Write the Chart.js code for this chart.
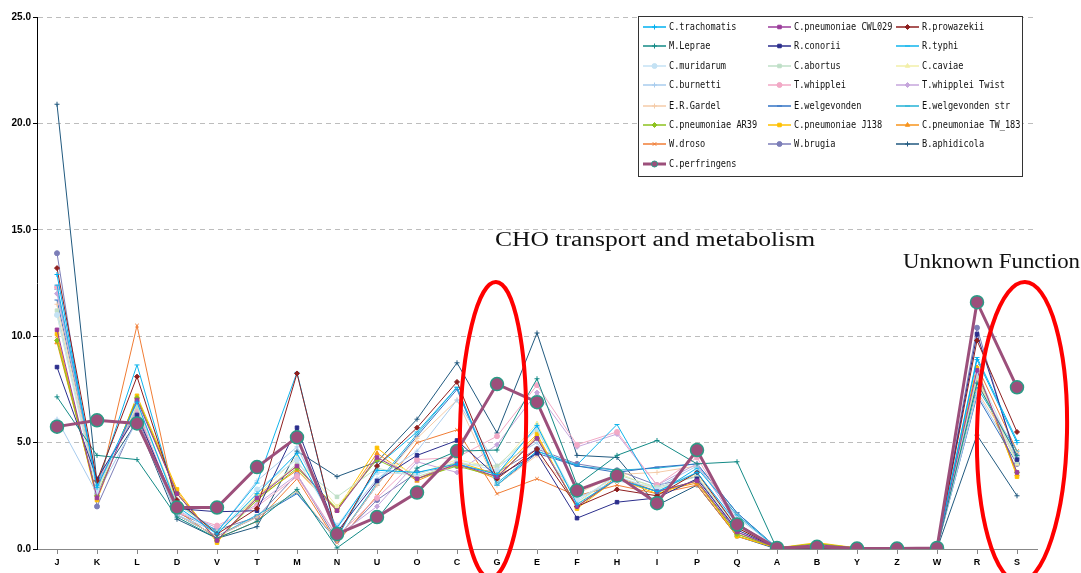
<!DOCTYPE html>
<html>
<head>
<meta charset="utf-8">
<script src="https://cdn.jsdelivr.net/npm/chart.js@4"></script>
<style>
  body { margin: 0; background: #fff; }
  #wrap { width: 1081px; height: 573px; }
</style>
</head>
<body>
<div id="wrap"><canvas id="cogChart" width="1081" height="573"></canvas></div>
<script>
// COG categories on the x axis
const categorias = ["J","K","L","D","V","T","M","N","U","O","C","G","E","F","H","I","P","Q","A","B","Y","Z","W","R","S"];
const yTicks = [0, 5, 10, 15, 20, 25];

// percentages per genome
const cTrachomatis = [12.9, 2.9, 6.9, 2.0, 0.7, 2.6, 4.5, 1.0, 3.7, 3.6, 4.0, 3.5, 5.8, 2.1, 3.3, 2.7, 3.6, 1.2, 0.05, 0.1, 0.02, 0.02, 0.05, 8.9, 5.0];
const cpnCWL029 = [10.3, 2.4, 7.0, 2.6, 0.4, 2.4, 3.9, 1.8, 4.3, 3.3, 4.0, 3.4, 5.2, 2.0, 3.3, 2.7, 3.2, 0.8, 0.05, 0.2, 0.05, 0.05, 0.05, 8.4, 3.6];
const rProwazekii = [13.2, 3.2, 8.1, 2.3, 0.7, 1.9, 8.25, 0.6, 3.9, 5.7, 7.85, 3.3, 4.7, 2.0, 2.8, 2.5, 3.6, 1.0, 0.05, 0.05, 0.02, 0.02, 0.05, 9.8, 5.5];
const mLeprae = [7.15, 4.4, 4.2, 1.5, 0.5, 1.3, 2.8, 0.05, 1.4, 3.8, 4.6, 4.65, 8.0, 3.0, 4.4, 5.1, 4.0, 4.1, 0.0, 0.05, 0.0, 0.0, 0.0, 7.8, 4.4];
const rConorii = [8.55, 3.3, 6.3, 1.9, 1.75, 1.8, 5.7, 0.8, 3.2, 4.4, 5.1, 3.4, 4.5, 1.45, 2.2, 2.4, 3.3, 0.9, 0.05, 0.05, 0.02, 0.02, 0.05, 10.1, 4.2];
const rTyphi = [12.4, 3.0, 8.65, 2.2, 0.8, 3.1, 8.3, 0.5, 3.9, 5.5, 7.6, 3.0, 4.6, 3.95, 5.85, 2.6, 3.8, 1.6, 0.05, 0.05, 0.02, 0.02, 0.05, 9.0, 5.1];
const cMuridarum = [11.0, 2.7, 6.9, 1.9, 0.7, 2.8, 4.2, 1.1, 3.6, 3.5, 4.1, 3.7, 5.7, 2.3, 3.4, 2.8, 3.6, 1.1, 0.05, 0.1, 0.02, 0.02, 0.05, 8.3, 4.3];
const cAbortus = [11.2, 2.8, 6.7, 2.1, 0.8, 2.4, 4.0, 2.45, 3.8, 3.4, 4.0, 3.9, 5.6, 2.2, 3.5, 2.9, 3.4, 1.0, 0.05, 0.1, 0.02, 0.02, 0.05, 8.1, 4.1];
const cCaviae = [11.0, 2.7, 6.8, 2.2, 0.7, 2.5, 4.3, 2.0, 4.3, 3.5, 4.2, 3.8, 5.9, 2.1, 3.6, 2.8, 3.5, 1.0, 0.05, 0.1, 0.02, 0.02, 0.05, 8.0, 4.0];
const cBurnetti = [6.1, 2.6, 6.0, 1.6, 0.8, 3.2, 4.8, 1.0, 3.3, 4.6, 7.0, 3.9, 5.0, 2.4, 3.2, 2.9, 3.9, 1.5, 0.05, 0.05, 0.02, 0.02, 0.05, 7.3, 4.2];
const tWhipplei = [12.3, 3.2, 6.6, 1.7, 1.1, 2.0, 3.4, 0.6, 2.4, 4.2, 4.3, 5.3, 7.7, 4.9, 5.5, 3.0, 4.3, 1.2, 0.05, 0.05, 0.02, 0.02, 0.05, 8.0, 4.3];
const tWhippleiTwist = [12.0, 3.1, 6.5, 1.8, 1.0, 2.1, 3.5, 0.6, 2.0, 4.1, 3.6, 4.9, 7.35, 4.8, 5.4, 3.0, 4.0, 1.2, 0.05, 0.05, 0.02, 0.02, 0.05, 7.9, 4.4];
const eRGardel = [11.5, 3.0, 6.4, 1.6, 0.6, 1.5, 2.7, 0.4, 3.0, 5.2, 7.0, 3.0, 4.4, 2.6, 3.5, 3.6, 3.9, 1.6, 0.05, 0.05, 0.02, 0.02, 0.05, 7.4, 4.5];
const eWelgevonden = [11.7, 3.0, 6.5, 1.6, 0.6, 1.5, 2.6, 0.4, 3.0, 5.3, 7.5, 3.0, 4.5, 3.9, 3.6, 3.85, 4.0, 1.7, 0.05, 0.05, 0.02, 0.02, 0.05, 7.2, 4.0];
const eWelgevondenStr = [12.2, 3.0, 6.6, 1.6, 0.6, 1.6, 2.65, 0.4, 3.1, 5.4, 7.6, 3.1, 4.6, 3.9, 3.7, 3.8, 4.0, 1.7, 0.05, 0.05, 0.02, 0.02, 0.05, 7.6, 4.6];
const cpnAR39 = [9.8, 2.5, 7.1, 2.6, 0.4, 2.3, 3.8, 1.9, 4.2, 3.3, 3.9, 3.4, 5.2, 2.0, 3.3, 2.7, 3.2, 0.7, 0.05, 0.25, 0.05, 0.05, 0.05, 8.3, 3.6];
const cpnJ138 = [10.1, 2.3, 7.2, 2.8, 0.3, 2.5, 3.9, 1.85, 4.75, 3.3, 4.1, 3.5, 5.4, 1.9, 3.3, 2.6, 3.2, 0.6, 0.05, 0.3, 0.05, 0.05, 0.05, 8.5, 3.4];
const cpnTW183 = [9.7, 2.5, 7.1, 2.7, 0.4, 2.4, 3.7, 1.8, 4.5, 3.2, 4.0, 3.3, 5.3, 2.0, 3.4, 2.7, 3.1, 0.7, 0.05, 0.25, 0.05, 0.05, 0.05, 8.2, 3.5];
const wDroso = [10.0, 2.5, 10.5, 1.8, 0.5, 1.3, 3.3, 0.3, 2.5, 5.0, 5.6, 2.6, 3.3, 2.5, 3.0, 2.6, 3.0, 0.6, 0.05, 0.05, 0.02, 0.02, 0.05, 8.6, 4.6];
const wBrugia = [13.9, 2.0, 6.2, 1.7, 0.9, 1.5, 3.5, 0.4, 2.3, 3.6, 3.9, 3.6, 4.7, 4.0, 3.7, 3.0, 3.4, 0.8, 0.05, 0.05, 0.02, 0.02, 0.05, 10.4, 4.0];
const bAphidicola = [20.9, 3.1, 6.0, 1.4, 0.5, 1.05, 4.6, 3.4, 4.1, 6.1, 8.75, 5.45, 10.15, 4.4, 4.3, 2.05, 3.0, 0.6, 0.0, 0.05, 0.0, 0.0, 0.0, 5.35, 2.5];
const cPerfringens = [5.75, 6.05, 5.9, 1.95, 1.95, 3.85, 5.25, 0.7, 1.5, 2.65, 4.6, 7.75, 6.9, 2.75, 3.45, 2.15, 4.65, 1.15, 0.05, 0.1, 0.02, 0.02, 0.05, 11.6, 7.6];

// nombre, datos, color, marcador
const series = [
  ["C.trachomatis", cTrachomatis, "#00B0F0", "cross"],
  ["C.pneumoniae CWL029", cpnCWL029, "#9B3C9B", "rect"],
  ["R.prowazekii", rProwazekii, "#8E1E1E", "rectRot"],
  ["M.Leprae", mLeprae, "#138A86", "cross"],
  ["R.conorii", rConorii, "#2B2E8C", "rect"],
  ["R.typhi", rTyphi, "#11B4EC", "line"],
  ["C.muridarum", cMuridarum, "#C4E2F4", "circle"],
  ["C.abortus", cAbortus, "#BFDFC7", "rect"],
  ["C.caviae", cCaviae, "#F2EFA8", "triangle"],
  ["C.burnetti", cBurnetti, "#A8CCEE", "cross"],
  ["T.whipplei", tWhipplei, "#F2A9C6", "circle"],
  ["T.whipplei Twist", tWhippleiTwist, "#C6A6DC", "rectRot"],
  ["E.R.Gardel", eRGardel, "#F4CBA8", "cross"],
  ["E.welgevonden", eWelgevonden, "#3373C4", "line"],
  ["E.welgevonden str", eWelgevondenStr, "#25B2D6", "line"],
  ["C.pneumoniae AR39", cpnAR39, "#8DC21F", "rectRot"],
  ["C.pneumoniae J138", cpnJ138, "#FFC000", "rect"],
  ["C.pneumoniae TW_183", cpnTW183, "#F7941D", "triangle"],
  ["W.droso", wDroso, "#F07C34", "crossRot"],
  ["W.brugia", wBrugia, "#7C7EB8", "circle"],
  ["B.aphidicola", bAphidicola, "#20597F", "cross"],
  ["C.perfringens", cPerfringens, "#9C4F7B", "circle"],
];

const datasets = series.map(([nombre, datos, color, marcador]) => {
  const grueso = nombre === "C.perfringens";
  return {
    label: nombre,
    data: datos,
    borderColor: color,
    backgroundColor: color,
    borderWidth: grueso ? 3 : 1,
    pointStyle: marcador,
    pointRadius: grueso ? 6.5 : 2.5,
    pointBackgroundColor: color,
    pointBorderColor: grueso ? "#2A9C86" : color,
    pointBorderWidth: grueso ? 1.5 : 1,
    tension: 0,
    order: grueso ? -1 : 0,
  };
});

// leyenda, textos y elipses rojas dibujadas encima
const decor = {
  id: "decor",
  afterDraw(chart) {
    const ctx = chart.ctx;
    ctx.save();
    // legend box
    ctx.fillStyle = "#fff";
    ctx.fillRect(638, 16, 384, 160);
    ctx.strokeStyle = "#333";
    ctx.lineWidth = 1;
    ctx.strokeRect(638.5, 16.5, 384, 160);
    const colX = [643, 768, 896];
    const rowY = [27, 46, 66, 85, 106, 125, 144, 164];
    chart.data.datasets.forEach((ds, i) => {
      const x = colX[i % 3];
      const y = rowY[Math.floor(i / 3)];
      const grueso = ds.label === "C.perfringens";
      ctx.strokeStyle = ds.borderColor;
      ctx.lineWidth = grueso ? 3 : 1.5;
      ctx.beginPath();
      ctx.moveTo(x, y);
      ctx.lineTo(x + 23, y);
      ctx.stroke();
      ctx.fillStyle = ds.pointBackgroundColor;
      ctx.strokeStyle = ds.pointBorderColor;
      ctx.lineWidth = 1;
      Chart.helpers.drawPoint(ctx, { pointStyle: ds.pointStyle, radius: grueso ? 3 : 2.5, borderWidth: 1, rotation: 0 }, x + 11.5, y);
      ctx.save();
      ctx.translate(x + 26, y);
      ctx.scale(0.82, 1);
      ctx.fillStyle = "#111";
      ctx.font = "10.5px 'DejaVu Sans Mono'";
      ctx.textBaseline = "middle";
      ctx.fillText(ds.label, 0, 0.5);
      ctx.restore();
    });

    // annotations
    const rotulo = (txt, x, y, ancho) => {
      ctx.save();
      ctx.font = "20px 'Liberation Serif'";
      const w = ctx.measureText(txt).width;
      ctx.translate(x, y);
      ctx.scale(ancho / w, 1);
      ctx.fillStyle = "#111";
      ctx.textBaseline = "middle";
      ctx.fillText(txt, 0, 0);
      ctx.restore();
    };
    rotulo("CHO transport and metabolism", 495, 241, 320);
    rotulo("Unknown Function", 903, 263, 177);

    // red ellipses
    ctx.strokeStyle = "#F00";
    ctx.lineWidth = 4;
    ctx.beginPath();
    ctx.ellipse(493, 430, 33, 148, 0.02, 0, Math.PI * 2);
    ctx.stroke();
    ctx.beginPath();
    ctx.ellipse(1022, 432, 45, 150, 0.02, 0, Math.PI * 2);
    ctx.stroke();
    ctx.restore();
  },
};

const ctx = document.getElementById("cogChart").getContext("2d");
new Chart(ctx, {
  type: "line",
  data: { labels: categorias, datasets: datasets },
  plugins: [decor],
  options: {
    responsive: false,
    animation: false,
    layout: { padding: { left: 0, top: 17, right: 44, bottom: 0 } },
    plugins: {
      legend: { display: false },
      tooltip: { enabled: false },
    },
    scales: {
      x: {
        offset: true,
        grid: { drawOnChartArea: false, drawTicks: true, tickLength: 5, color: "#888" },
        border: { color: "#888", width: 1 },
        ticks: { color: "#000", font: { family: "Liberation Sans", size: 9, weight: "bold" }, padding: 3, maxRotation: 0, autoSkip: false },
        afterFit: (s) => { s.height = 24; },
      },
      y: {
        min: yTicks[0],
        max: yTicks[yTicks.length - 1],
        afterBuildTicks: (s) => { s.ticks = yTicks.map((v) => ({ value: v })); },
        grid: {
          color: (c) => (c.tick && c.tick.value === 0 ? "rgba(0,0,0,0)" : "#BDBDBD"),
          tickColor: "#000",
          tickLength: 4,
          lineWidth: 1,
        },
        border: { color: "#000", width: 1, dash: [5, 4] },
        ticks: {
          color: "#000",
          font: { family: "Liberation Sans", size: 10, weight: "bold" },
          padding: 2,
          callback: (v) => Number(v).toFixed(1),
        },
        afterFit: (s) => { s.width = 37; },
      },
    },
  },
});
</script>
</body>
</html>
